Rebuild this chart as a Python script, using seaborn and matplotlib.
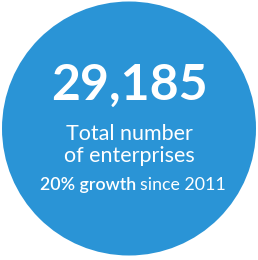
import matplotlib
matplotlib.use("Agg")
import matplotlib.pyplot as plt
import seaborn as sns
from matplotlib.patches import Circle

# Data
headline_value = 29185
label_lines = ["Total number", "of enterprises"]
growth_pct = 20
since_year = 2011

sns.set_theme(style="white")
plt.rcParams['font.family'] = ['Lato', 'DejaVu Sans']

fig = plt.figure(figsize=(2.58, 2.60), dpi=100)
ax = fig.add_axes([0, 0, 1, 1])
ax.set_xlim(0, 258)
ax.set_ylim(260, 0)
ax.set_axis_off()

blue = "#2A94D6"
ax.add_patch(Circle((129, 128.5), 127, facecolor=blue, edgecolor="none"))

ax.text(129, 100, f"{headline_value:,}", ha="center", va="baseline",
        color="white", fontsize=36, fontweight="bold")
ax.text(129, 140, label_lines[0], ha="center", va="baseline",
        color="white", fontsize=15.5, fontweight="normal")
ax.text(129, 162, label_lines[1], ha="center", va="baseline",
        color="white", fontsize=15.5, fontweight="normal")

t1 = ax.text(40, 190, f"{growth_pct}% growth", ha="left", va="baseline",
             color="white", fontsize=12.8, fontweight="semibold")
fig.canvas.draw()
bb = t1.get_window_extent()
inv = ax.transData.inverted()
x_end = inv.transform((bb.x1, bb.y0))[0]
ax.text(x_end + 4, 190, f"since {since_year}", ha="left", va="baseline",
        color="white", fontsize=12.8, fontweight="normal")

fig.savefig("out.png", dpi=100, facecolor="white")
